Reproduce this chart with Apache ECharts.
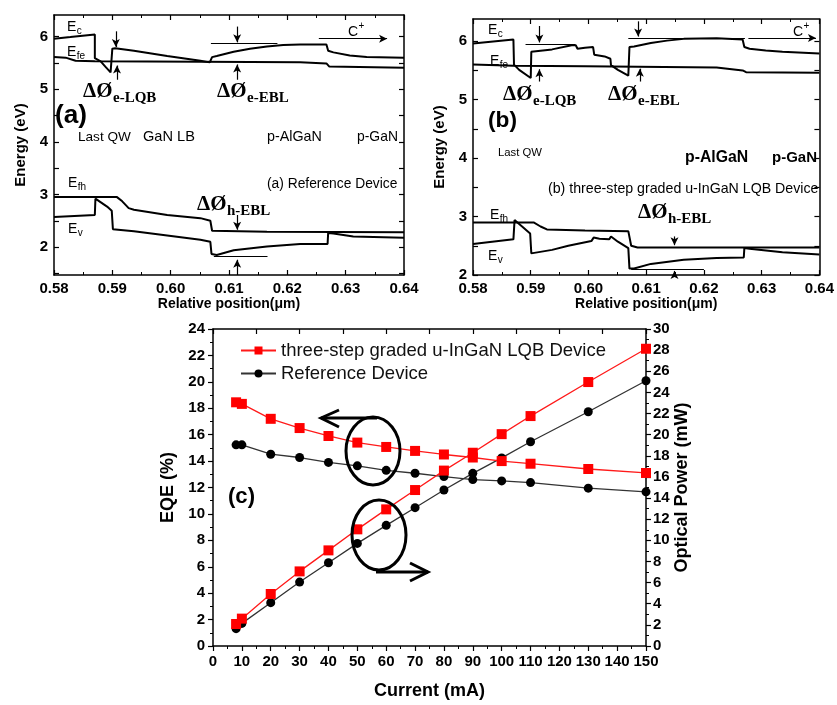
<!DOCTYPE html>
<html>
<head>
<meta charset="utf-8">
<script src="https://cdn.jsdelivr.net/npm/echarts@6/dist/echarts.min.js"></script>
<style>
html,body{margin:0;padding:0;background:#fff;}
#chart{width:837px;height:705px;}
</style>
</head>
<body>
<div id="chart"></div>
<script>
// ---- (a) reference device band edges: [position (um), energy (eV)]
const refEc = [[0.5800,5.96],[0.5828,5.99],[0.5870,6.04],[0.5870,5.59],[0.5880,5.53],[0.5888,5.43],[0.5897,5.32],[0.5900,5.34],[0.5900,5.77],[0.5905,5.78],[0.5937,5.73],[0.5994,5.63],[0.6051,5.54],[0.6067,5.51],[0.6070,5.48],[0.6071,5.61],[0.6079,5.63],[0.6108,5.71],[0.6136,5.77],[0.6165,5.81],[0.6193,5.84],[0.6222,5.85],[0.6267,5.85],[0.6270,5.73],[0.6279,5.70],[0.6307,5.64],[0.6336,5.61],[0.6400,5.60]];
const refEfe = [[0.5800,5.61],[0.5820,5.60],[0.5837,5.54],[0.5870,5.53],[0.6051,5.52],[0.6222,5.51],[0.6267,5.49],[0.6272,5.43],[0.6400,5.41]];
const refEv = [[0.5800,2.57],[0.5870,2.61],[0.5871,2.92],[0.5874,2.92],[0.5891,2.77],[0.5899,2.69],[0.5901,2.34],[0.5937,2.30],[0.5994,2.22],[0.6051,2.14],[0.6068,2.10],[0.6070,1.87],[0.6079,1.85],[0.6108,1.94],[0.6165,2.01],[0.6222,2.06],[0.6269,2.06],[0.6270,2.27],[0.6279,2.26],[0.6313,2.20],[0.6400,2.18]];
const refEfh = [[0.5800,2.95],[0.5908,2.95],[0.5917,2.87],[0.5928,2.74],[0.5937,2.71],[0.5994,2.61],[0.6051,2.55],[0.6068,2.50],[0.6071,2.31],[0.6165,2.29],[0.6400,2.28]];

// ---- (b) graded LQB device band edges
const lqbEc = [[0.5800,5.96],[0.5870,6.03],[0.5871,5.60],[0.5880,5.51],[0.5900,5.37],[0.5901,5.82],[0.5937,5.86],[0.5971,5.93],[0.5978,5.93],[0.5981,5.87],[0.5994,5.89],[0.6008,5.90],[0.6010,5.77],[0.6028,5.74],[0.6038,5.70],[0.6039,5.59],[0.6051,5.51],[0.6069,5.41],[0.6071,5.90],[0.6079,5.91],[0.6108,5.97],[0.6136,6.01],[0.6165,6.04],[0.6222,6.05],[0.6267,6.03],[0.6270,5.90],[0.6279,5.87],[0.6307,5.84],[0.6336,5.82],[0.6400,5.79]];
const lqbEfe = [[0.5800,5.60],[0.5870,5.58],[0.5994,5.57],[0.6222,5.55],[0.6267,5.50],[0.6273,5.47],[0.6400,5.46]];
const lqbEv = [[0.5800,2.53],[0.5870,2.61],[0.5872,2.94],[0.5875,2.93],[0.5899,2.71],[0.5901,2.37],[0.5937,2.43],[0.5965,2.50],[0.6005,2.58],[0.6009,2.64],[0.6019,2.62],[0.6036,2.61],[0.6039,2.66],[0.6051,2.57],[0.6069,2.46],[0.6071,2.11],[0.6079,2.11],[0.6108,2.19],[0.6165,2.26],[0.6222,2.29],[0.6269,2.30],[0.6270,2.46],[0.6279,2.45],[0.6336,2.39],[0.6400,2.35]];
const lqbEfh = [[0.5800,2.90],[0.5905,2.90],[0.5917,2.83],[0.5928,2.78],[0.5994,2.76],[0.6069,2.75],[0.6074,2.50],[0.6085,2.47],[0.6400,2.47]];

// barrier-height markers: [x1, y1, x2, y2, arrowhead]
const refMarks = [[0.5906,6.10,0.5906,5.80,1],[0.5908,5.18,0.5908,5.45,1],[0.6069,5.867,0.6183,5.867,0],[0.6114,6.19,0.6114,5.89,1],[0.6114,5.18,0.6114,5.47,1],[0.6254,5.96,0.6371,5.96,1],[0.6114,2.61,0.6114,2.33,1],[0.6074,1.835,0.6166,1.835,0],[0.6114,1.47,0.6114,1.76,1]];
const lqbMarks = [[0.5891,5.954,0.5977,5.954,0],[0.5915,6.26,0.5915,5.98,1],[0.5915,5.31,0.5915,5.52,1],[0.6069,6.057,0.6271,6.057,0],[0.6086,6.34,0.6086,6.08,1],[0.6089,5.31,0.6089,5.53,1],[0.6277,6.057,0.6394,6.057,1],[0.6149,2.66,0.6149,2.51,1],[0.6074,2.097,0.6200,2.097,0],[0.6149,2.0,0.6149,2.07,1]];

// ---- (c) L-I characteristics
const current = [8,10,20,30,40,50,60,70,80,90,100,110,130,150];
const eqeLqb = [18.45,18.33,17.2,16.5,15.9,15.4,15.07,14.77,14.5,14.27,14.0,13.8,13.4,13.1];
const eqeRef = [15.23,15.23,14.52,14.27,13.9,13.64,13.3,13.08,12.83,12.6,12.5,12.37,11.95,11.67];
const powLqb = [2.08,2.59,4.92,7.06,9.05,11.04,12.93,14.76,16.6,18.29,20.05,21.76,24.98,28.13];
const powRef = [1.64,2.14,4.1,6.05,7.88,9.71,11.42,13.09,14.76,16.34,17.8,19.33,22.17,25.1];

const nameLqb = 'three-step graded u-InGaN LQB Device';
const nameRef = 'Reference Device';

const sans = "'Liberation Sans', Arial, sans-serif";
const serif = "'Liberation Serif', 'Times New Roman', serif";

const mctx = document.createElement('canvas').getContext('2d');
function measure(t, font) { mctx.font = font; return mctx.measureText(t).width; }
function txt(x, y, t, font, align) {
  return { type: 'text', x: x, y: y, silent: true, z: 100,
    style: { text: t, font: font, fill: '#000', textAlign: align || 'left', textVerticalAlign: 'middle' } };
}
// text sized so that it spans a given width
function fitTxt(x, y, t, weight, width, family) {
  const base = measure(t, weight + ' 20px ' + family);
  const size = 20 * width / base;
  return txt(x, y, t, weight + ' ' + size.toFixed(1) + 'px ' + family);
}
function withSub(x, y, main, sub, mainFont, subFont, dy) {
  const w = measure(main, mainFont);
  return [txt(x, y, main, mainFont), txt(x + w + 0.5, y + dy, sub, subFont)];
}
function bandLabels(xc, yc, xfe, yfe, xfh, yfh, xv, yv) {
  const f = '14px ' + sans, s = '10px ' + sans;
  return [].concat(withSub(xc, yc, 'E', 'c', f, s, 4), withSub(xfe, yfe, 'E', 'fe', f, s, 4),
    withSub(xfh, yfh, 'E', 'fh', f, s, 4), withSub(xv, yv, 'E', 'v', f, s, 4));
}
function phi(x, y, sub) {
  return withSub(x, y, '\u0394\u00D8', sub, 'bold 21px ' + serif, 'bold 15px ' + serif, 6);
}

function markData(list) {
  return list.map(m => [
    { coord: [m[0], m[1]], symbol: 'none' },
    { coord: [m[2], m[3]], symbol: m[4] ? 'arrow' : 'none', symbolSize: [6, 8] }
  ]);
}
function band(data, xi, yi, marks) {
  const s = { type: 'line', data: data, xAxisIndex: xi, yAxisIndex: yi, showSymbol: false,
    lineStyle: { color: '#000', width: 2 }, silent: true, z: 3 };
  if (marks) {
    s.markLine = { silent: true, animation: false, label: { show: false },
      lineStyle: { color: '#000', width: 1.2, type: 'solid' }, data: markData(marks) };
  }
  return s;
}

const axisLine = { show: true, onZero: false, lineStyle: { color: '#000', width: 1.5 } };
const tickLabelFont = { color: '#000', fontWeight: 'bold', fontSize: 15, fontFamily: sans };

function posAxis(grid, position, labels) {
  return { type: 'value', gridIndex: grid, position: position, min: 0.58, max: 0.64, interval: 0.01,
    axisLine: axisLine, splitLine: { show: false },
    axisTick: { show: true, inside: true, length: 5, lineStyle: { color: '#000', width: 1.2 } },
    minorTick: { show: true, splitNumber: 2, length: 3, lineStyle: { color: '#000', width: 1 } },
    axisLabel: labels ? Object.assign({ show: true, margin: 6, formatter: v => v.toFixed(2) }, tickLabelFont) : { show: false },
    name: labels ? 'Relative position(\u03BCm)' : '', nameLocation: 'middle', nameGap: 17,
    nameTextStyle: { color: '#000', fontWeight: 'bold', fontSize: 14, fontFamily: sans } };
}
function energyAxis(grid, position, min, max, labels) {
  const ticks = [];
  for (let v = 1.5; v <= 6.01; v += 0.5) if (v >= min - 1e-9) ticks.push(+v.toFixed(1));
  return { type: 'value', gridIndex: grid, position: position, min: min, max: max,
    axisLine: axisLine, splitLine: { show: false },
    axisTick: { show: true, inside: true, length: 5, customValues: ticks, lineStyle: { color: '#000', width: 1.2 } },
    axisLabel: labels ? Object.assign({ show: true, margin: 6, customValues: [2, 3, 4, 5, 6] }, tickLabelFont) : { show: false },
    name: labels ? 'Energy (eV)' : '', nameLocation: 'middle', nameGap: 26,
    nameTextStyle: { color: '#000', fontWeight: 'bold', fontSize: 15, fontFamily: sans } };
}

const chart = echarts.init(document.getElementById('chart'), null, { renderer: 'canvas' });

const graphics = [].concat(
  // panel (a)
  bandLabels(67, 27, 67, 52, 68, 183, 68, 229),
  phi(83, 92, 'e-LQB'), phi(217, 92, 'e-EBL'), phi(197, 205, 'h-EBL'),
  withSub(348, 32, 'C', '+', '14px ' + sans, '10px ' + sans, -6),
  [fitTxt(55, 116, '(a)', 'bold', 32, sans),
   fitTxt(78, 137, 'Last QW', 'normal', 53, sans),
   fitTxt(143, 137, 'GaN LB', 'normal', 52, sans),
   fitTxt(267, 137, 'p-AlGaN', 'normal', 55, sans),
   fitTxt(357, 137, 'p-GaN', 'normal', 41, sans),
   fitTxt(267, 184, '(a) Reference Device', 'normal', 130, sans)],
  // panel (b)
  bandLabels(488, 30, 490, 61, 490, 215, 488, 256),
  phi(503, 95, 'e-LQB'), phi(608, 95, 'e-EBL'), phi(638, 213, 'h-EBL'),
  withSub(793, 32, 'C', '+', '14px ' + sans, '10px ' + sans, -6),
  [fitTxt(488, 121, '(b)', 'bold', 29, sans),
   fitTxt(498, 153, 'Last QW', 'normal', 44, sans),
   fitTxt(685, 158, 'p-AlGaN', 'bold', 63, sans),
   fitTxt(772, 158, 'p-GaN', 'bold', 45, sans),
   fitTxt(548, 189, '(b) three-step graded u-InGaN LQB Device', 'normal', 270, sans)],
  // panel (c)
  [fitTxt(228, 497, '(c)', 'bold', 27, sans),
   { type: 'ellipse', silent: true, z: 100, shape: { cx: 373, cy: 451, rx: 27, ry: 34 },
     style: { fill: 'none', stroke: '#000', lineWidth: 3 } },
   { type: 'polyline', silent: true, z: 100, shape: { points: [[377, 418], [321, 418]] },
     style: { fill: 'none', stroke: '#000', lineWidth: 3 } },
   { type: 'polyline', silent: true, z: 100, shape: { points: [[339, 410], [321, 418], [339, 427]] },
     style: { fill: 'none', stroke: '#000', lineWidth: 3 } },
   { type: 'ellipse', silent: true, z: 100, shape: { cx: 379, cy: 535, rx: 27, ry: 35 },
     style: { fill: 'none', stroke: '#000', lineWidth: 3 } },
   { type: 'polyline', silent: true, z: 100, shape: { points: [[376, 572], [428, 572]] },
     style: { fill: 'none', stroke: '#000', lineWidth: 3 } },
   { type: 'polyline', silent: true, z: 100, shape: { points: [[410, 563], [428, 572], [410, 581]] },
     style: { fill: 'none', stroke: '#000', lineWidth: 3 } }]
);

const liTickLabel = { color: '#000', fontWeight: 'bold', fontSize: 15, fontFamily: sans };
const outTick = { show: true, inside: false, length: 5, lineStyle: { color: '#000', width: 1.2 } };
const outMinor = { show: true, splitNumber: 2, length: 3, lineStyle: { color: '#000' } };

chart.setOption({
  animation: false,
  backgroundColor: '#fff',
  grid: [
    { left: 54, top: 15, width: 350, height: 260 },
    { left: 473, top: 19, width: 351, height: 256 },
    { left: 213, top: 329, width: 433, height: 317 }
  ],
  xAxis: [
    posAxis(0, 'bottom', true), posAxis(0, 'top', false),
    posAxis(1, 'bottom', true), posAxis(1, 'top', false),
    { type: 'value', gridIndex: 2, position: 'bottom', min: 0, max: 150, interval: 10,
      axisLine: axisLine, splitLine: { show: false },
      axisTick: outTick, minorTick: outMinor,
      axisLabel: Object.assign({ margin: 8 }, liTickLabel),
      name: 'Current (mA)', nameLocation: 'middle', nameGap: 36,
      nameTextStyle: { color: '#000', fontWeight: 'bold', fontSize: 18, fontFamily: sans } },
    { type: 'value', gridIndex: 2, position: 'top', min: 0, max: 150, interval: 15,
      axisLine: axisLine, splitLine: { show: false },
      axisTick: { show: true, inside: true, length: 5, lineStyle: { color: '#000', width: 1.2 } },
      axisLabel: { show: false } }
  ],
  yAxis: [
    energyAxis(0, 'left', 1.47, 6.41, true), energyAxis(0, 'right', 1.47, 6.41, false),
    energyAxis(1, 'left', 2, 6.38, true), energyAxis(1, 'right', 2, 6.38, false),
    { type: 'value', gridIndex: 2, position: 'left', min: 0, max: 24, interval: 2,
      axisLine: axisLine, splitLine: { show: false },
      axisTick: outTick, minorTick: outMinor,
      axisLabel: Object.assign({ margin: 8 }, liTickLabel),
      name: 'EQE (%)', nameLocation: 'middle', nameGap: 30,
      nameTextStyle: { color: '#000', fontWeight: 'bold', fontSize: 18, fontFamily: sans } },
    { type: 'value', gridIndex: 2, position: 'right', min: 0, max: 30, interval: 2,
      axisLine: axisLine, splitLine: { show: false },
      axisTick: outTick, minorTick: outMinor,
      axisLabel: Object.assign({ margin: 7 }, liTickLabel),
      name: 'Optical Power (mW)', nameLocation: 'middle', nameGap: 27, nameMoveOverlap: false,
      nameTextStyle: { color: '#000', fontWeight: 'bold', fontSize: 18, fontFamily: sans } }
  ],
  legend: {
    data: [nameLqb, nameRef], orient: 'vertical', left: 235, top: 336,
    itemWidth: 35, itemHeight: 10, itemGap: 4,
    textStyle: { color: '#111', fontSize: 18.5, fontFamily: sans }
  },
  graphic: { elements: graphics },
  series: [
    band(refEc, 0, 0, refMarks), band(refEfe, 0, 0), band(refEv, 0, 0), band(refEfh, 0, 0),
    band(lqbEc, 2, 2, lqbMarks), band(lqbEfe, 2, 2), band(lqbEv, 2, 2), band(lqbEfh, 2, 2),
    { name: nameRef, type: 'line', xAxisIndex: 4, yAxisIndex: 4,
      data: current.map((c, i) => [c, eqeRef[i]]), symbol: 'circle', symbolSize: 9,
      itemStyle: { color: '#000' }, lineStyle: { color: '#333', width: 1.3 } },
    { name: nameRef, type: 'line', xAxisIndex: 4, yAxisIndex: 5,
      data: current.map((c, i) => [c, powRef[i]]), symbol: 'circle', symbolSize: 9,
      itemStyle: { color: '#000' }, lineStyle: { color: '#333', width: 1.3 } },
    { name: nameLqb, type: 'line', xAxisIndex: 4, yAxisIndex: 4,
      data: current.map((c, i) => [c, eqeLqb[i]]), symbol: 'rect', symbolSize: 10,
      itemStyle: { color: '#ff0000' }, lineStyle: { color: '#ff1a1a', width: 1.3 } },
    { name: nameLqb, type: 'line', xAxisIndex: 4, yAxisIndex: 5,
      data: current.map((c, i) => [c, powLqb[i]]), symbol: 'rect', symbolSize: 10,
      itemStyle: { color: '#ff0000' }, lineStyle: { color: '#ff1a1a', width: 1.3 } }
  ]
});
</script>
</body>
</html>
